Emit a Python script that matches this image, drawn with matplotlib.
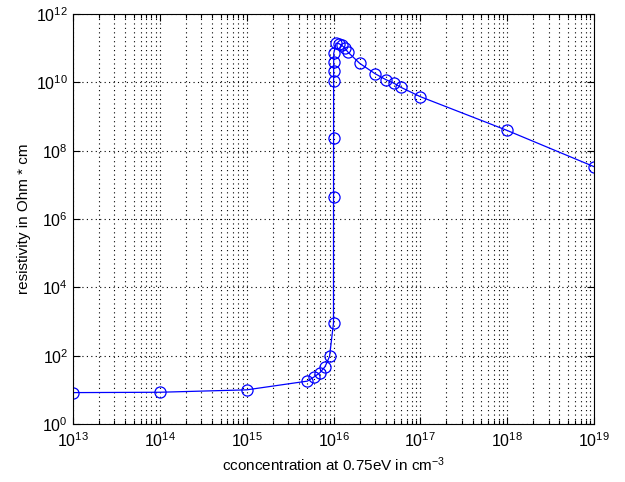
import matplotlib
matplotlib.use("Agg")
import matplotlib.pyplot as plt
import matplotlib.ticker as ticker
import numpy as np

plt.rcParams["font.family"] = ["Liberation Sans", "DejaVu Sans"]
plt.rcParams["mathtext.fontset"] = "custom"
plt.rcParams["mathtext.rm"] = "Liberation Sans"
plt.rcParams["mathtext.it"] = "Liberation Sans"
plt.rcParams["mathtext.default"] = "regular"

# doping concentration (cm^-3) and resulting resistivity (Ohm*cm)
concentration = [
    1e13, 1e14, 1e15, 5e15, 6e15, 7e15, 8e15, 9e15,
    1.0e16, 1.001e16, 1.002e16, 1.003e16, 1.004e16, 1.005e16, 1.006e16,
    1.07e16, 1.16e16, 1.25e16, 1.35e16, 1.47e16,
    2e16, 3e16, 4e16, 5e16, 6e16, 1e17, 1e18, 1e19,
]
resistivity = [
    8.3, 8.5, 10.0, 18.0, 24.0, 32.0, 48.0, 95.0,
    9.0e2, 4.5e6, 2.3e8, 1.1e10, 2.2e10, 4.0e10, 7.0e10,
    1.4e11, 1.35e11, 1.2e11, 1.0e11, 7.6e10,
    3.6e10, 1.8e10, 1.2e10, 9.3e9, 7.1e9, 3.8e9, 3.9e8, 3.4e7,
]

fig = plt.figure(figsize=(6.25, 4.82), dpi=100)
ax = fig.add_axes([0.1168, 0.1203, 0.8336, 0.8507])

ax.loglog(concentration, resistivity, color="#0000ff", linewidth=0.9,
          marker="o", markersize=8, markerfacecolor="none",
          markeredgecolor="#0000ff", markeredgewidth=0.9)

ax.set_xlim(1e13, 1e19)
ax.set_ylim(1e0, 1e12)

ax.xaxis.set_major_locator(ticker.LogLocator(base=10, numticks=20))
ax.xaxis.set_minor_locator(ticker.LogLocator(base=10, subs=np.arange(2, 10), numticks=20))
ax.xaxis.set_minor_formatter(ticker.NullFormatter())
ax.yaxis.set_major_locator(ticker.FixedLocator([10.0 ** k for k in range(0, 13, 2)]))
ax.yaxis.set_minor_locator(ticker.NullLocator())
ax.xaxis.set_major_formatter(ticker.LogFormatterMathtext())
ax.yaxis.set_major_formatter(ticker.LogFormatterMathtext())

ax.grid(True, which="major", linestyle=(0, (1, 3)), color="black", linewidth=0.8)
ax.grid(True, which="minor", axis="x", linestyle=(0, (1, 3)), color="black", linewidth=0.8)

ax.tick_params(which="both", direction="in", top=True, right=True, labelsize=11.5,
               colors="black")
ax.tick_params(which="major", length=5, width=0.8)
ax.tick_params(which="minor", length=3, width=0.8)
ax.tick_params(axis="x", pad=5)
for sp in ax.spines.values():
    sp.set_color("black")
    sp.set_linewidth(0.8)

ax.set_xlabel("cconcentration at 0.75eV in cm$^{-3}$", fontsize=11)
ax.set_ylabel("resistivity in Ohm * cm", fontsize=11, labelpad=4)

fig.savefig("out.png", dpi=100)
